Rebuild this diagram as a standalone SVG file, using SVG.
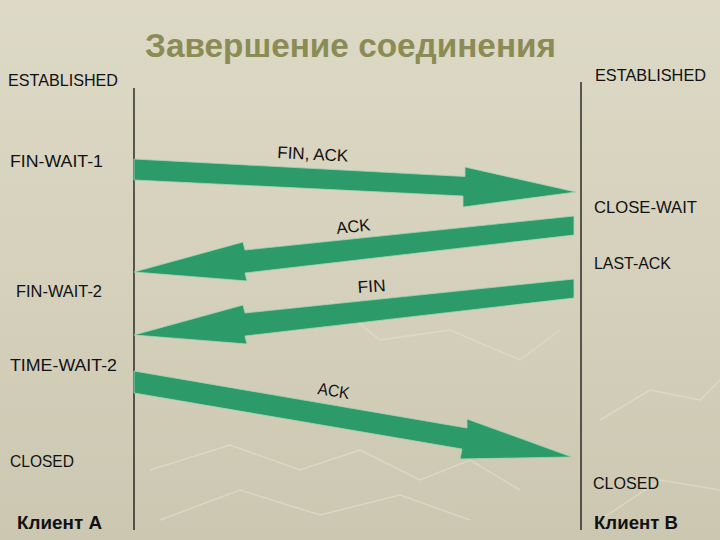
<svg xmlns="http://www.w3.org/2000/svg" width="720" height="540" viewBox="0 0 720 540">
<defs>
<linearGradient id="bg" x1="0" y1="0" x2="0" y2="1">
<stop offset="0" stop-color="#dcd9c6"/>
<stop offset="0.45" stop-color="#d6d2bd"/>
<stop offset="1" stop-color="#cbc7b1"/>
</linearGradient>
<style>
.lbl{font-family:"Liberation Sans",Arial,sans-serif;font-size:17px;fill:#111}
.bold{font-family:"Liberation Sans",Arial,sans-serif;font-size:18px;font-weight:bold;fill:#111}
.title{font-family:"Liberation Sans",Arial,sans-serif;font-size:33px;font-weight:bold;fill:#8b8b55}
.life{stroke:#111;stroke-width:1.3;fill:none}
.arrow{fill:#2d9b69;stroke:#a9d6b4;stroke-width:0.8;stroke-linejoin:miter}
.bgl{fill:none;stroke:#e4e1d0;stroke-width:1.5;opacity:0.6}
</style>
</defs>
<rect width="720" height="540" fill="url(#bg)"/>
<g id="texture">
<polyline class="bgl" points="150,470 230,445 300,470 360,450 420,480 470,460 520,490"/>
<polyline class="bgl" points="160,520 240,490 320,515 400,495 470,520"/>
<polyline class="bgl" points="330,300 380,340 450,330 520,360 560,330"/>
<polyline class="bgl" points="600,420 650,390 700,400 720,380"/>
<polyline class="bgl" points="600,520 660,480 720,490"/>
</g>
<text id="title" class="title" x="145" y="57" textLength="411" lengthAdjust="spacingAndGlyphs">Завершение соединения</text>
<g id="clientA">
<line class="life" x1="134" y1="88" x2="134" y2="530"/>
<text class="lbl" x="8" y="86" textLength="110" lengthAdjust="spacingAndGlyphs">ESTABLISHED</text>
<text class="lbl" x="10" y="167" textLength="93" lengthAdjust="spacingAndGlyphs">FIN-WAIT-1</text>
<text class="lbl" x="16" y="297" textLength="86" lengthAdjust="spacingAndGlyphs">FIN-WAIT-2</text>
<text class="lbl" x="10" y="371" textLength="107" lengthAdjust="spacingAndGlyphs">TIME-WAIT-2</text>
<text class="lbl" x="10" y="467" textLength="64" lengthAdjust="spacingAndGlyphs">CLOSED</text>
<text class="bold" x="17" y="529" textLength="85" lengthAdjust="spacingAndGlyphs">Клиент А</text>
</g>
<g id="clientB">
<line class="life" x1="581" y1="82" x2="581" y2="530"/>
<text class="lbl" x="595" y="81" textLength="111" lengthAdjust="spacingAndGlyphs">ESTABLISHED</text>
<text class="lbl" x="594" y="213" textLength="103" lengthAdjust="spacingAndGlyphs">CLOSE-WAIT</text>
<text class="lbl" x="594" y="269" textLength="77" lengthAdjust="spacingAndGlyphs">LAST-ACK</text>
<text class="lbl" x="593" y="489" textLength="66" lengthAdjust="spacingAndGlyphs">CLOSED</text>
<text class="bold" x="594" y="529" textLength="84" lengthAdjust="spacingAndGlyphs">Клиент B</text>
</g>
<g id="connectors">
<polygon class="arrow" points="134,159 465,176.5 465,167 576,192 463,207 463,196 134,180"/>
<polygon class="arrow" points="574,216 245,250 243,242 134,272 247,281 245,273 574,235"/>
<polygon class="arrow" points="574,279 245,313 243,305 134,335 247,344 245,336 574,298"/>
<polygon class="arrow" points="134,371 467,428 467,419 572,457 460,459 462,449 134,393"/>
<text class="lbl" x="277" y="158" textLength="71" lengthAdjust="spacingAndGlyphs" transform="rotate(3 277 158)">FIN, ACK</text>
<text class="lbl" x="337" y="234" textLength="34" lengthAdjust="spacingAndGlyphs" transform="rotate(-6 337 234)">ACK</text>
<text class="lbl" x="358" y="293" textLength="28" lengthAdjust="spacingAndGlyphs" transform="rotate(-4 358 293)">FIN</text>
<text class="lbl" x="317" y="394" textLength="32" lengthAdjust="spacingAndGlyphs" transform="rotate(9 317 394)">ACK</text>
</g>
</svg>
